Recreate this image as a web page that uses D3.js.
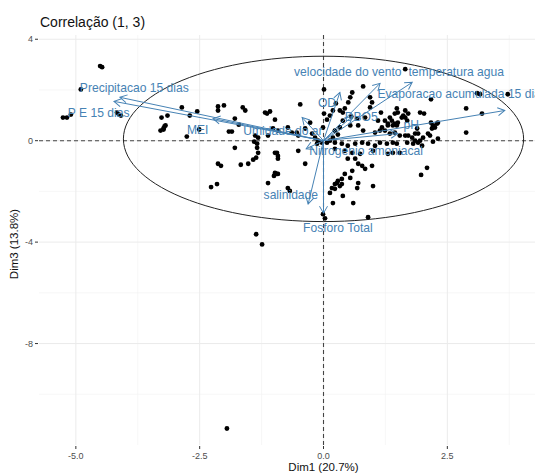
<!DOCTYPE html>
<html><head><meta charset="utf-8">
<script src="https://cdn.jsdelivr.net/npm/d3@7"></script>
<style>body{margin:0;background:#fff}svg{display:block}</style>
</head><body>
<svg id="c" width="535" height="473"></svg>
<script>
// ---- data (PCA coordinates, Dim1 x Dim3) ----
const indX = [-4.51,-4.47,-4.90,-5.26,-5.18,-5.10,-4.17,-4.13,-4.09,-3.27,-3.15,-3.29,-3.23,-3.21,-3.19,-3.23,-2.86,-2.70,-2.55,-2.76,-2.51,-2.13,-2.13,-2.01,-1.79,-1.71,-1.91,-1.85,-1.79,-2.13,-2.07,-2.27,-2.15,-1.67,-1.52,-1.40,-1.34,-1.34,-1.32,-1.36,-1.42,-1.63,-1.58,-1.14,-1.08,-1.12,-1.36,-1.24,-1.95,
 0.01,0.80,0.58,0.54,-0.47,-0.98,0.01,0.07,0.13,0.19,0.25,0.94,0.98,0.94,0.39,0.43,0.56,0.68,0.84,0.39,0.54,0.70,0.80,0.33,0.23,0.29,0.19,1.10,1.18,1.04,-0.72,-0.64,-0.54,-0.51,-0.92,-1.02,-1.38,-1.32,-1.12,-0.01,-0.23,-0.17,-0.11,-0.03,-0.13,0.07,0.13,
 1.16,1.48,1.50,1.65,1.71,1.65,1.95,2.03,1.38,1.44,1.48,1.30,1.14,2.17,2.21,2.25,2.29,2.31,2.19,2.11,1.89,1.91,1.95,1.85,1.99,2.88,3.20,2.88,3.72,3.10,3.16,2.17,1.65,1.24,1.34,1.44,1.58,1.61,1.69,1.30,1.40,1.50,1.24,1.34,1.44,1.54,1.65,1.71,1.79,1.85,2.01,2.15,2.21,2.31,1.69,1.81,1.91,1.14,1.28,1.40,1.48,1.30,1.40,1.54,2.09,1.97,
 -0.94,-0.92,-0.92,-0.51,-0.37,-0.98,-0.94,-1.00,-0.92,-0.72,-0.68,0.23,0.37,0.49,0.64,0.78,0.90,1.04,0.23,0.43,0.58,0.74,0.49,0.64,0.70,0.78,0.98,0.58,0.43,0.37,0.29,0.27,0.23,0.33,0.37,0.17,0.23,0.54,0.70,0.39,0.60,0.19,-0.01,0.03,0.90,1.00,0.68,0.84,1.00,0.13,-1.18,-0.98,0.50,0.33,-0.37,-0.27];
const indY = [2.94,2.90,2.02,0.91,0.91,1.03,1.11,1.03,0.99,0.91,0.99,0.40,0.48,0.56,0.60,0.44,1.31,0.99,1.15,0.16,0.44,1.35,1.19,1.39,0.87,0.63,0.36,0.36,-0.28,-0.91,-0.99,-1.83,-1.71,-0.95,-0.91,-0.04,-0.12,-0.28,-0.48,-0.67,-0.75,1.31,1.19,1.07,1.15,-1.67,-3.69,-4.09,-11.35,
 2.02,2.14,1.90,1.71,1.43,0.83,1.07,0.83,0.99,1.19,1.47,1.71,1.51,1.31,1.11,1.27,0.95,0.87,0.91,0.79,0.60,0.60,0.40,0.52,0.40,0.24,0.12,0.79,0.52,0.32,0.52,0.32,0.32,0.20,0.40,0.48,0.20,0.12,0.20,0.52,0.28,0.12,0.00,-0.08,-0.12,-0.08,0.00,
 1.11,1.27,1.11,1.19,1.07,0.91,1.11,1.07,0.79,0.67,0.60,0.60,0.40,0.71,0.60,0.52,0.67,0.71,0.48,0.28,0.48,0.28,0.00,0.00,-0.20,1.27,1.07,0.32,1.83,1.87,1.83,1.63,2.82,0.79,0.91,1.07,0.91,0.99,0.79,0.67,0.60,0.71,0.40,0.28,0.32,0.20,0.20,0.20,0.12,0.28,0.12,0.20,-0.04,0.08,-0.08,-0.12,-0.08,-0.08,-0.12,-0.08,-0.12,-0.52,-0.48,-0.48,-1.07,-1.35,
 -0.48,-0.60,-0.71,-0.40,-0.91,-1.27,-1.31,-1.39,-1.31,-1.87,-1.98,-0.08,-0.12,-0.20,-0.12,-0.08,-0.12,-0.20,-0.32,-0.40,-0.48,-0.52,-0.71,-0.71,-0.91,-0.99,-0.99,-1.19,-1.31,-1.51,-1.59,-1.67,-1.71,-1.79,-1.71,-1.87,-1.90,-1.47,-1.67,-2.18,-2.46,-2.46,-2.90,-3.06,-3.02,-1.79,-1.87,-1.11,-0.40,-2.06,1.11,-0.48,1.51,1.19,0.48,0.71];

const varNames = ["Precipitacao 15 dias","P E 15 dias","MEI","Umidade do ar","OD","velocidade do vento","temperatura agua","Evaporacao acumulada 15 dias","DBO5","pH","Nitrogenio amoniacal","salinidade","Fosforo Total"];
const varX = [-4.11,-4.23,-2.23,-0.43,0.33,1.14,1.79,3.66,0.58,1.50,-0.35,-0.31,0.00];
const varY = [1.71,1.55,0.87,0.91,1.90,2.26,2.30,1.19,0.95,0.28,-0.32,-2.50,-2.86];
const labX = [-3.82,-4.54,-2.54,-0.82,0.07,0.49,2.68,2.80,0.76,1.77,0.86,-0.66,0.29];
const labY = [2.10,1.11,0.44,0.40,1.51,2.70,2.70,1.85,0.95,0.63,-0.40,-2.14,-3.45];

const ellipseCenter = [0.0, 0.07];
const ellipseRadii = [4.04, 3.26];

const xTicks = [-5.0, -2.5, 0.0, 2.5];
const xTickLabels = ["-5.0","-2.5","0.0","2.5"];
const xMinor = [-3.75, -1.25, 1.25, 3.75];
const yTicks = [4, 0, -4, -8];
const yTickLabels = ["4","0","-4","-8"];
const yMinor = [2, -2, -6, -10];

const title = "Correlação (1, 3)";
const xTitle = "Dim1 (20.7%)";
const yTitle = "Dim3 (13.8%)";

// ---- drawing ----
const svg = d3.select("#c");
const L = 39, R = 535, T = 35, B = 445;
const x = d3.scaleLinear().domain([-5.744, 4.270]).range([L, R]);
const y = d3.scaleLinear().domain([-12.00, 4.167]).range([B, T]);
const blue = "#4682B4";
const font = "Liberation Sans, Arial, sans-serif";

svg.append("defs").append("clipPath").attr("id","clip")
  .append("rect").attr("x",L).attr("y",T).attr("width",R-L).attr("height",B-T);
const marker = svg.select("defs").append("marker").attr("id","arr")
  .attr("markerUnits","userSpaceOnUse").attr("markerWidth",12).attr("markerHeight",12)
  .attr("viewBox","0 0 12 12").attr("refX",9).attr("refY",6).attr("orient","auto");
marker.append("path").attr("d","M2,2 L9,6 L2,10").attr("fill","none").attr("stroke",blue).attr("stroke-width",1);

const g = svg.append("g").attr("clip-path","url(#clip)");
// grid
g.selectAll(".gxm").data(xMinor).join("line").attr("x1",d=>x(d)).attr("x2",d=>x(d)).attr("y1",T).attr("y2",B).attr("stroke","#f2f2f2").attr("stroke-width",0.6);
g.selectAll(".gym").data(yMinor).join("line").attr("y1",d=>y(d)).attr("y2",d=>y(d)).attr("x1",L).attr("x2",R).attr("stroke","#f2f2f2").attr("stroke-width",0.6);
g.selectAll(".gx").data(xTicks).join("line").attr("x1",d=>x(d)).attr("x2",d=>x(d)).attr("y1",T).attr("y2",B).attr("stroke","#ebebeb").attr("stroke-width",1);
g.selectAll(".gy").data(yTicks).join("line").attr("y1",d=>y(d)).attr("y2",d=>y(d)).attr("x1",L).attr("x2",R).attr("stroke","#ebebeb").attr("stroke-width",1);

// dashed reference lines
g.append("line").attr("x1",L).attr("x2",R).attr("y1",y(0)).attr("y2",y(0)).attr("stroke","#444").attr("stroke-width",1.1).attr("stroke-dasharray","4,3");
g.append("line").attr("x1",x(0)).attr("x2",x(0)).attr("y1",T).attr("y2",B).attr("stroke","#444").attr("stroke-width",1.1).attr("stroke-dasharray","4,3");

// ellipse
const angles = d3.range(0, 360, 3);
const line = d3.line().x(a=>x(ellipseCenter[0]+ellipseRadii[0]*Math.cos(a*Math.PI/180))).y(a=>y(ellipseCenter[1]+ellipseRadii[1]*Math.sin(a*Math.PI/180))).curve(d3.curveCardinalClosed);
g.append("path").attr("d",line(angles)).attr("fill","none").attr("stroke","#222").attr("stroke-width",1);

// points
g.selectAll(".pt").data(indX.map((v,i)=>[v,indY[i]])).join("circle")
  .attr("cx",d=>x(d[0])).attr("cy",d=>y(d[1])).attr("r",2.4).attr("fill","#000");

// arrows
g.selectAll(".ar").data(varNames.map((n,i)=>i)).join("line")
  .attr("x1",x(0)).attr("y1",y(0)).attr("x2",i=>x(varX[i])).attr("y2",i=>y(varY[i]))
  .attr("stroke",blue).attr("stroke-width",1).attr("marker-end","url(#arr)");
g.selectAll(".lb").data(varNames.map((n,i)=>i)).join("text")
  .attr("x",i=>x(labX[i])).attr("y",i=>y(labY[i])).attr("dy","0.35em")
  .attr("text-anchor","middle").attr("fill",blue)
  .attr("font-family",font).attr("font-size",12.1)
  .text(i=>varNames[i]);

// axes ticks
const ax = svg.append("g").attr("font-family",font).attr("font-size",9).attr("fill","#4d4d4d");
xTicks.forEach((t,i)=>{
  ax.append("line").attr("x1",x(t)).attr("x2",x(t)).attr("y1",B+1).attr("y2",B+4).attr("stroke","#333");
  ax.append("text").attr("x",x(t)).attr("y",B+14).attr("text-anchor","middle").text(xTickLabels[i]);});
yTicks.forEach((t,i)=>{
  ax.append("line").attr("x1",L-4).attr("x2",L-1).attr("y1",y(t)).attr("y2",y(t)).attr("stroke","#333");
  ax.append("text").attr("x",L-6).attr("y",y(t)).attr("dy","0.35em").attr("text-anchor","end").text(yTickLabels[i]);});

// titles
svg.append("text").attr("x",40).attr("y",27).attr("font-family",font).attr("font-size",14).attr("fill","#111").text(title);
svg.append("text").attr("x",x(0)).attr("y",471).attr("text-anchor","middle").attr("font-family",font).attr("font-size",11.5).attr("fill","#111").text(xTitle);
svg.append("text").attr("transform","translate(18,244) rotate(-90)").attr("text-anchor","middle").attr("font-family",font).attr("font-size",11.5).attr("fill","#111").text(yTitle);
</script>
</body></html>
